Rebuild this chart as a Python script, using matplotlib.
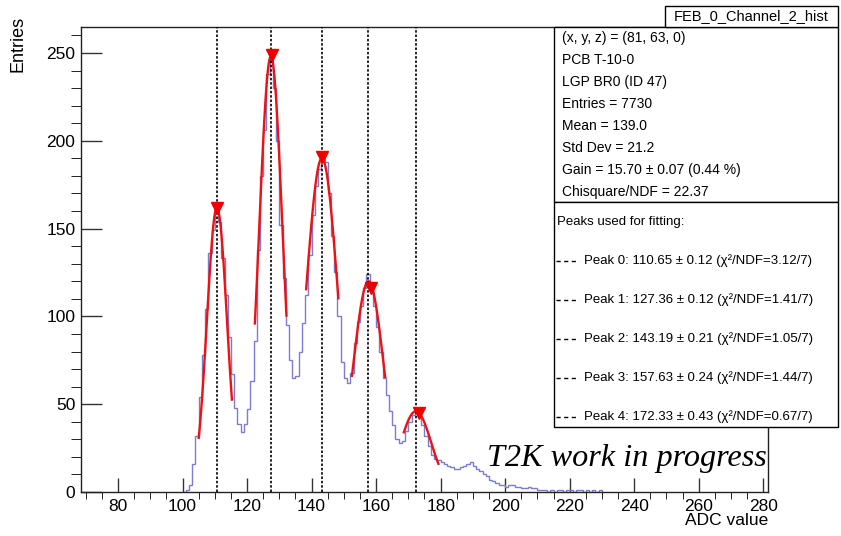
import matplotlib
matplotlib.use('Agg')
import matplotlib.pyplot as plt
from matplotlib.patches import Rectangle
from matplotlib.lines import Line2D
from matplotlib.ticker import MultipleLocator
import numpy as np

plt.rcParams['font.family'] = ['Liberation Sans', 'DejaVu Sans']

# histogram contents, one ADC count per bin, first bin is [100, 101)
first_bin = 100
counts = [0, 1, 4, 16, 32, 54, 78, 104, 136, 149,
          162, 154, 133, 112, 88, 67, 48, 39, 34, 39,
          47, 63, 86, 138, 180, 206, 238, 248, 230, 200,
          152, 122, 95, 75, 65, 66, 80, 96, 112, 135,
          158, 174, 184, 190, 188, 170, 146, 125, 100, 74,
          65, 62, 68, 85, 97, 106, 116, 124, 116, 106,
          94, 80, 65, 55, 46, 38, 30, 28, 29, 35,
          40, 44, 46, 44, 38, 32, 26, 21, 19, 18,
          17, 16, 15, 14, 13, 13, 14, 15, 16, 17,
          15, 13, 12, 10, 9, 7, 6, 5, 4, 4,
          3, 4, 4, 3, 3, 2, 2, 3, 2, 2,
          1, 1, 1, 0, 1, 0, 1, 1, 0, 1,
          1, 0, 1, 1, 0, 1, 0, 1, 0, 1]

# gaussian fits on each peak
peak_means = [110.65, 127.36, 143.19, 157.63, 172.33]
peak_errs = [0.12, 0.12, 0.21, 0.24, 0.43]
peak_chi2 = [3.12, 1.41, 1.05, 1.44, 0.67]
peak_ndf = 7
fit_amp = [162, 248, 190, 120, 46]
fit_sigma = [3.1, 3.6, 4.9, 4.7, 4.8]
fit_lo = [105.0, 122.4, 138.3, 152.5, 168.6]
fit_hi = [115.3, 132.2, 148.3, 162.8, 179.3]

# peak finder markers
marker_x = [110.7, 127.7, 143.2, 158.4, 173.3]
marker_y = [162, 249, 191, 116, 45]

stats_lines = ['(x, y, z) = (81, 63, 0)', 'PCB T-10-0', 'LGP BR0 (ID 47)',
               'Entries = 7730', 'Mean = 139.0', 'Std Dev = 21.2',
               'Gain = 15.70 \u00b1 0.07 (0.44 %)', 'Chisquare/NDF = 22.37']

W, H = 841, 536


def fx(px):
    return px / W


def fy(py):
    return 1 - py / H


fig = plt.figure(figsize=(W / 100, H / 100), dpi=100)
ax = fig.add_axes([fx(81), fy(492), (768 - 81) / W, (492 - 27) / H])

edges = np.arange(first_bin, first_bin + len(counts) + 1)
ax.stairs(counts, edges, color='#7c7cd4', lw=1.0, zorder=2)

for m, a, s, lo, hi in zip(peak_means, fit_amp, fit_sigma, fit_lo, fit_hi):
    xx = np.linspace(lo, hi, 120)
    ax.plot(xx, a * np.exp(-0.5 * ((xx - m) / s) ** 2), color='#ee1111', lw=1.7, zorder=3)

for m in peak_means:
    ax.axvline(m, color='black', lw=1.2, ls=(0, (1.5, 1.1)), zorder=4)

ax.plot(marker_x, marker_y, 'v', color='#ee0000', ms=9, zorder=5)

ax.set_xlim(68.5, 281.5)
ax.set_ylim(0, 264.8)
ax.xaxis.set_major_locator(MultipleLocator(20))
ax.xaxis.set_minor_locator(MultipleLocator(5))
ax.yaxis.set_major_locator(MultipleLocator(50))
ax.yaxis.set_minor_locator(MultipleLocator(10))
ax.tick_params(direction='in', labelsize=12.5, width=1, color='#333333')
ax.tick_params(axis='y', which='major', length=15, pad=4)
ax.tick_params(axis='y', which='minor', length=7.5)
ax.tick_params(axis='x', which='major', length=10, pad=5)
ax.tick_params(axis='x', which='minor', length=5)
for sp in ax.spines.values():
    sp.set_linewidth(1)
    sp.set_color('#222222')

fig.text(fx(18), fy(16), 'Entries', rotation=90, ha='center', va='top', fontsize=13)
fig.text(fx(768), fy(513), 'ADC value', ha='right', va='top', fontsize=12.5)

# stats box
box_kw = dict(transform=fig.transFigure, facecolor='white', edgecolor='black', lw=1, zorder=10)
fig.add_artist(Rectangle((fx(554), fy(202)), (838 - 554) / W, (202 - 27) / H, **box_kw))
fig.add_artist(Rectangle((fx(554), fy(427)), (838 - 554) / W, (427 - 202) / H, **box_kw))
fig.add_artist(Rectangle((fx(665), fy(27)), (838 - 665) / W, (27 - 6) / H, **box_kw))
fig.text(fx(751), fy(16.5), 'FEB_0_Channel_2_hist', ha='center', va='center', fontsize=10.5, zorder=11)

for i, s in enumerate(stats_lines):
    fig.text(fx(562), fy(38 + 22 * i), s, ha='left', va='center', fontsize=10, zorder=11)

fig.text(fx(557), fy(222), 'Peaks used for fitting:', ha='left', va='center', fontsize=9.5, zorder=11)
for i in range(len(peak_means)):
    yy = fy(261 + 39 * i)
    fig.add_artist(Line2D([fx(556), fx(579)], [yy, yy], transform=fig.transFigure,
                          color='black', lw=1, ls=(0, (3, 2.5)), zorder=11))
    txt = 'Peak %d: %.2f \u00b1 %.2f (\u03c7\u00b2/NDF=%.2f/%d)' % (
        i, peak_means[i], peak_errs[i], peak_chi2[i], peak_ndf)
    fig.text(fx(584), yy, txt, ha='left', va='center', fontsize=9.5, zorder=11)

fig.text(fx(487), fy(466), 'T2K work in progress', ha='left', va='baseline',
         fontsize=23.2, style='italic', family='Liberation Serif', zorder=11)

fig.savefig('out.png', dpi=100)
